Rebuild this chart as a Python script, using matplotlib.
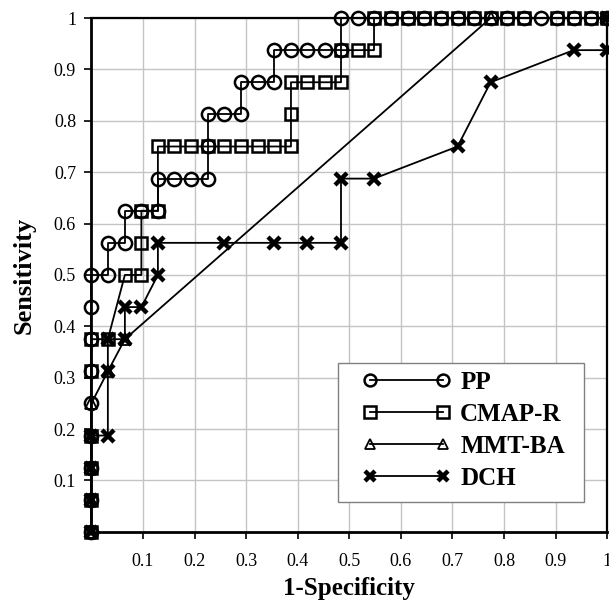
import matplotlib
matplotlib.use("Agg")
import matplotlib.pyplot as plt
from matplotlib.ticker import FixedLocator
from matplotlib.patches import Rectangle

# ---- data (1-Specificity, Sensitivity) ----
pp_x = [0, 0, 0, 0, 0, 0, 0, 0, 0,
        0.032, 0.032, 0.065, 0.065, 0.097, 0.129, 0.129, 0.161, 0.194,
        0.226, 0.226, 0.226, 0.258, 0.290, 0.290, 0.323, 0.355, 0.355,
        0.387, 0.419, 0.452, 0.484, 0.484, 0.516, 0.548, 0.581, 0.613,
        0.645, 0.677, 0.710, 0.742, 0.774, 0.806, 0.839, 0.871, 0.903,
        0.935, 0.968, 1.0]
pp_y = [0, 0.0625, 0.125, 0.1875, 0.25, 0.3125, 0.375, 0.4375, 0.5,
        0.5, 0.5625, 0.5625, 0.625, 0.625, 0.625, 0.6875, 0.6875, 0.6875,
        0.6875, 0.75, 0.8125, 0.8125, 0.8125, 0.875, 0.875, 0.875, 0.9375,
        0.9375, 0.9375, 0.9375, 0.9375, 1, 1, 1, 1, 1,
        1, 1, 1, 1, 1, 1, 1, 1, 1,
        1, 1, 1]

cmap_x = [0, 0, 0, 0, 0, 0, 0.032, 0.065, 0.097, 0.097, 0.097, 0.129, 0.129,
          0.161, 0.194, 0.226, 0.258, 0.290, 0.323, 0.355, 0.387, 0.387, 0.387,
          0.419, 0.452, 0.484, 0.484, 0.516, 0.548, 0.548, 0.581, 0.613, 0.645,
          0.677, 0.710, 0.742, 0.774, 0.806, 0.839, 0.903, 0.935, 0.968, 1.0]
cmap_y = [0, 0.0625, 0.125, 0.1875, 0.3125, 0.375, 0.375, 0.5, 0.5, 0.5625, 0.625, 0.625, 0.75,
          0.75, 0.75, 0.75, 0.75, 0.75, 0.75, 0.75, 0.75, 0.8125, 0.875,
          0.875, 0.875, 0.875, 0.9375, 0.9375, 0.9375, 1, 1, 1, 1,
          1, 1, 1, 1, 1, 1, 1, 1, 1, 1]

mmt_x = [0, 0, 0, 0, 0, 0.032, 0.065, 0.774, 1.0]
mmt_y = [0, 0.0625, 0.125, 0.1875, 0.25, 0.3125, 0.375, 1, 1]

dch_x = [0, 0, 0, 0, 0.032, 0.032, 0.032, 0.065, 0.065, 0.097, 0.129, 0.129,
         0.258, 0.355, 0.419, 0.484, 0.484, 0.548, 0.710, 0.774, 0.935, 1.0, 1.0]
dch_y = [0, 0.0625, 0.125, 0.1875, 0.1875, 0.3125, 0.375, 0.375, 0.4375, 0.4375, 0.5, 0.5625,
         0.5625, 0.5625, 0.5625, 0.5625, 0.6875, 0.6875, 0.75, 0.875, 0.9375, 0.9375, 1]

series_labels = ["PP", "CMAP-R", "MMT-BA", "DCH"]
tick_vals = [0.1, 0.2, 0.3, 0.4, 0.5, 0.6, 0.7, 0.8, 0.9, 1.0]
tick_labels = ["0.1", "0.2", "0.3", "0.4", "0.5", "0.6", "0.7", "0.8", "0.9", "1"]

plt.rcParams['font.family'] = ['Liberation Serif', 'DejaVu Serif']

fig = plt.figure(figsize=(6.09, 6.01), dpi=100)
ax = fig.add_axes([0.150, 0.115, 0.847, 0.855])

lw = 1.3
l_mmt, = ax.plot(mmt_x, mmt_y, color='black', lw=lw, marker='^', markersize=8,
                 markerfacecolor='none', markeredgewidth=1.3, label=series_labels[2],
                 zorder=3, clip_on=False)
l_dch, = ax.plot(dch_x, dch_y, color='black', lw=lw, marker='x', markersize=8,
                 markeredgewidth=3.2, label=series_labels[3], zorder=4, clip_on=False)
l_cmap, = ax.plot(cmap_x, cmap_y, color='black', lw=lw, marker='s', markersize=9,
                  markerfacecolor='none', markeredgewidth=1.8, label=series_labels[1],
                  zorder=5, clip_on=False)
l_pp, = ax.plot(pp_x, pp_y, color='black', lw=lw, marker='o', markersize=9.5,
                markerfacecolor='none', markeredgewidth=1.8, label=series_labels[0],
                zorder=6, clip_on=False)

ax.set_xlim(0, 1)
ax.set_ylim(0, 1)
ax.xaxis.set_major_locator(FixedLocator(tick_vals))
ax.yaxis.set_major_locator(FixedLocator(tick_vals))
ax.set_xticklabels(tick_labels)
ax.set_yticklabels(tick_labels)
ax.tick_params(axis='both', direction='out', length=5, width=1.2, labelsize=13, color='black')
ax.tick_params(axis='x', pad=10)
ax.tick_params(axis='y', pad=6)
ax.grid(True, color='#c4c4c4', lw=1.0, zorder=0)
ax.set_axisbelow(True)

for side in ['left', 'bottom']:
    ax.spines[side].set_linewidth(2.0)
for side in ['top', 'right']:
    ax.spines[side].set_linewidth(1.6)

ax.set_xlabel("1-Specificity", fontsize=18, fontweight='bold', labelpad=5)
ax.set_ylabel("Sensitivity", fontsize=19, fontweight='bold', labelpad=13)

# legend frame
frame = Rectangle((0.478, 0.058), 0.477, 0.271, transform=ax.transAxes,
                  facecolor='white', edgecolor='#808080', lw=1.0, zorder=7)
ax.add_patch(frame)
leg = ax.legend([l_pp, l_cmap, l_mmt, l_dch], series_labels,
                loc='upper left', bbox_to_anchor=(0.526, 0.313),
                numpoints=2, handlelength=3.5, markerscale=0.9,
                prop={'family': 'Liberation Serif', 'weight': 'bold', 'size': 18},
                frameon=False, borderpad=0, labelspacing=0.36, handletextpad=0.4,
                borderaxespad=0)
leg.set_zorder(8)

fig.savefig("out.png", dpi=100)
